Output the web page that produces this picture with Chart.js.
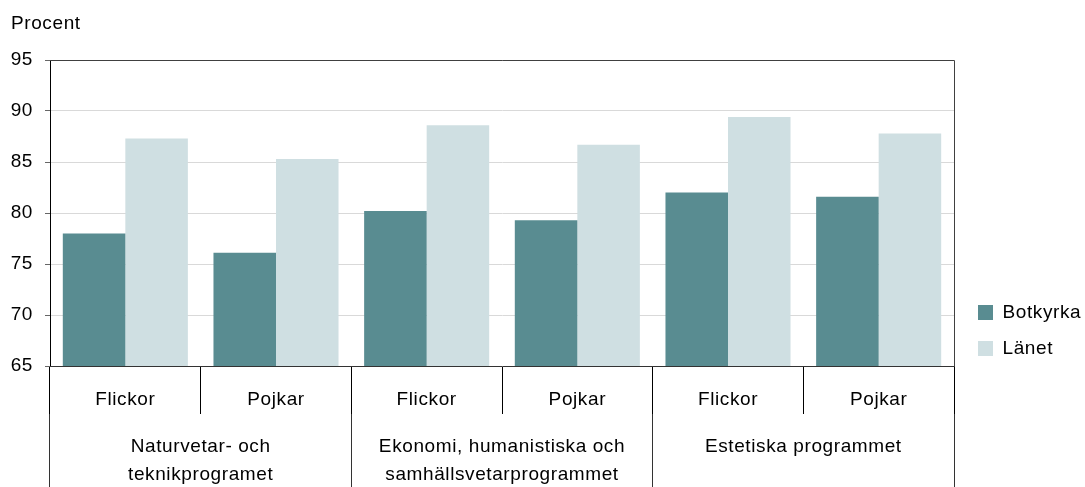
<!DOCTYPE html>
<html><head><meta charset="utf-8">
<script src="https://cdn.jsdelivr.net/npm/chart.js@4/dist/chart.umd.min.js"></script>
<style>html,body{margin:0;padding:0;background:#fff}#wrap{width:1085px;height:487px;position:relative}</style>
</head><body><div id="wrap"><canvas id="c"></canvas></div>
<script>
const subCategories = ['Flickor', 'Pojkar', 'Flickor', 'Pojkar', 'Flickor', 'Pojkar'];
const programmes = [['Naturvetar- och', 'teknikprogramet'], ['Ekonomi, humanistiska och', 'samhällsvetarprogrammet'], ['Estetiska programmet']];
const seriesNames = ['Botkyrka', 'Länet'];
const botkyrka = [78.0, 76.1, 80.2, 79.3, 82.0, 81.6];
const lanet = [87.3, 85.3, 88.6, 86.7, 89.4, 87.8];
const yTicks = [65, 70, 75, 80, 85, 90, 95];
const yTitle = 'Procent';

Chart.defaults.font.family = "'Liberation Sans', Arial, sans-serif";
Chart.defaults.font.size = 19;
Chart.defaults.color = '#000';

const spacing = {
  id: 'spacing',
  beforeDraw(chart) { chart.ctx.letterSpacing = '0.6px'; }
};

const frame = {
  id: 'frame',
  afterDraw(chart) {
    const {ctx, chartArea: a} = chart;
    ctx.save();
    ctx.strokeStyle = '#404040';
    ctx.lineWidth = 1;
    ctx.beginPath();
    ctx.moveTo(a.left, Math.round(a.top) + 0.5);
    ctx.lineTo(Math.round(a.right) + 0.5, Math.round(a.top) + 0.5);
    ctx.lineTo(Math.round(a.right) + 0.5, a.bottom);
    ctx.stroke();
    ctx.restore();
  }
};

new Chart(document.getElementById('c'), {
  type: 'bar',
  data: {
    labels: subCategories,
    datasets: [
      {label: seriesNames[0], data: botkyrka, backgroundColor: '#598c91', borderWidth: 0, categoryPercentage: 0.83, barPercentage: 1},
      {label: seriesNames[1], data: lanet, backgroundColor: '#cfdfe2', borderWidth: 0, categoryPercentage: 0.83, barPercentage: 1}
    ]
  },
  options: {
    responsive: true,
    maintainAspectRatio: false,
    animation: false,
    devicePixelRatio: 1,
    layout: {padding: {left: 11, right: 0, top: 0, bottom: 0}},
    plugins: {
      tooltip: {enabled: false},
      title: {display: true, text: yTitle, align: 'start', color: '#000',
        font: {size: 19, weight: 'normal'}, padding: {top: 12, bottom: 25.2}},
      legend: {
        position: 'right', align: 'start', fullSize: true, maxWidth: 124,
        title: {display: true, text: ' ', padding: {top: 263.2, bottom: 0}},
        labels: {boxWidth: 15, boxHeight: 15, padding: 17, color: '#000', font: {size: 19}}
      }
    },
    scales: {
      y: {
        type: 'linear', position: 'left', min: 65, max: 95,
        afterBuildTicks: s => { s.ticks = yTicks.map(v => ({value: v})); },
        grid: {color: '#d9d9d9', tickLength: 5, tickColor: '#666', drawTicks: true},
        border: {display: true, color: '#000'},
        ticks: {padding: 12, color: '#000', font: {size: 19}},
        afterFit: s => { s.width = 39; }
      },
      yr: {
        type: 'linear', position: 'right', display: true,
        ticks: {display: false}, grid: {display: false}, border: {display: false},
        afterFit: s => { s.width = 7; }
      },
      x: {
        type: 'category', position: 'bottom', weight: 0, offset: true,
        grid: {offset: true, drawOnChartArea: false, drawTicks: true, tickLength: 48, tickColor: '#000', lineWidth: 1},
        border: {display: true, color: '#333'},
        ticks: {padding: -25.4, maxRotation: 0, autoSkip: false, color: '#000', font: {size: 19}},
        afterFit: s => { s.height = 48; }
      },
      x2: {
        type: 'category', position: 'bottom', weight: 1, labels: programmes, offset: true,
        grid: {offset: true, drawOnChartArea: false, drawTicks: true, tickLength: 80, tickColor: '#333', lineWidth: 1},
        border: {display: false},
        ticks: {padding: -61.75, maxRotation: 0, autoSkip: false, color: '#000', font: {size: 19, lineHeight: 1.5}},
        afterFit: s => { s.height = 73; }
      }
    }
  },
  plugins: [spacing, frame]
});
</script>
</body></html>
